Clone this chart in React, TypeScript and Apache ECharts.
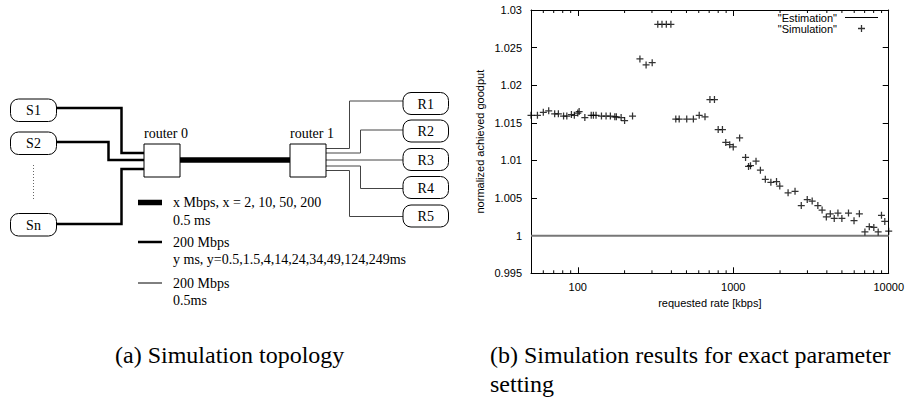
import React, { useEffect, useRef } from 'react';
import * as echarts from 'echarts';

// ---- chart data (b) ----
const rateKbps = [
  50, 55, 60, 65, 71, 75, 81, 85, 91, 95, 100, 102, 111, 122, 126, 131, 142, 152, 162, 173, 177, 190, 200, 225,
  251, 275, 301, 327, 348, 371, 397,
  427, 449, 502, 554, 604, 658, 708, 757, 800, 852, 895, 949, 1000, 1099,
  1200, 1254, 1291, 1401, 1495, 1608, 1746, 1898, 1992, 2253, 2497, 2739, 2992, 3219, 3501, 3728, 3970, 4210,
  4463, 4714, 4998, 5512, 5983, 6476, 7030, 7500, 8021, 8556, 8985, 9437, 10000,
];
const goodput = [
  1.016, 1.016, 1.0164, 1.0166, 1.0162, 1.0162, 1.0159, 1.0159, 1.0161, 1.016, 1.0163, 1.0165, 1.0157, 1.016,
  1.016, 1.016, 1.0159, 1.0159, 1.0159, 1.0158, 1.0158, 1.0157, 1.0153, 1.0159,
  1.0235, 1.0227, 1.023, 1.0281, 1.0281, 1.0281, 1.0281,
  1.0155, 1.0155, 1.0155, 1.0155, 1.016, 1.0158, 1.0181, 1.0181, 1.0141, 1.0141, 1.0124, 1.0121, 1.0118, 1.013,
  1.0104, 1.0092, 1.0093, 1.0099, 1.0087, 1.0075, 1.0071, 1.0072, 1.0066, 1.0057, 1.0059, 1.004, 1.0048, 1.0046,
  1.004, 1.0034, 1.0025, 1.0029, 1.0023, 1.003, 1.0023, 1.003, 1.002, 1.0029, 1.0005, 1.0012, 1.0011, 1.0005,
  1.0027, 1.0019, 1.0006,
];
const estimationX = [50, 10000];
const estimationY = [1, 1];
const xLabelTicks = [100, 1000, 10000];
const xMinorTicks = [60, 70, 80, 90, 200, 300, 400, 500, 600, 700, 800, 900, 2000, 3000, 4000, 5000, 6000, 7000, 8000, 9000];
const yMin = 0.995;
const yMax = 1.03;
const yStep = 0.005;

// ---- diagram texts (a) ----
const senders = ['S1', 'S2', 'Sn'];
const receivers = ['R1', 'R2', 'R3', 'R4', 'R5'];
const routers = ['router 0', 'router 1'];
const linkLegend = [
  ['x Mbps, x = 2, 10, 50, 200', '0.5 ms'],
  ['200 Mbps', 'y ms, y=0.5,1.5,4,14,24,34,49,124,249ms'],
  ['200 Mbps', '0.5ms'],
];
const captionA = '(a) Simulation topology';
const captionB = ['(b) Simulation results for exact parameter', 'setting'];
const seriesNames = ['"Estimation"', '"Simulation"'];

const SERIF = '"Liberation Serif", "Times New Roman", serif';
const SANS = '"Liberation Sans", Arial, Helvetica, sans-serif';
const PLUS = 'path://M4.1,0h1.8v4.1h4.1v1.8h-4.1v4.1h-1.8v-4.1h-4.1v-1.8h4.1z';
const LINE_ICON = 'path://M0,0h33v1h-33z';

function buildGraphic() {
  const g: any[] = [];
  const txt = (text: string, x: number, y: number, size: number, align = 'left') => ({
    type: 'text', x, y, silent: true,
    style: { text, fontSize: size, fontFamily: SERIF, fill: '#000', textAlign: align, textVerticalAlign: 'middle' },
  });
  const poly = (points: number[][], lw: number, color = '#000') => ({
    type: 'polyline', silent: true, shape: { points }, style: { stroke: color, lineWidth: lw, fill: null },
  });
  const box = (x: number, y: number, w: number, h: number, r: number) => ({
    type: 'rect', silent: true, shape: { x, y, width: w, height: h, r }, style: { fill: '#fff', stroke: '#000', lineWidth: 1 },
  });

  // sender links (medium)
  g.push(poly([[56.5, 108], [121.5, 108], [121.5, 153], [144, 153]], 2.5));
  g.push(poly([[56.5, 142], [108.5, 142], [108.5, 160], [144, 160]], 2.5));
  g.push(poly([[56.5, 224], [121.5, 224], [121.5, 169], [144, 169]], 2.5));
  // bottleneck (thick)
  g.push(poly([[180, 160], [290, 160]], 5.5));
  // receiver links (thin)
  g.push(poly([[326, 148.5], [349.5, 148.5], [349.5, 101], [403, 101]], 1, '#444'));
  g.push(poly([[326, 153], [360.5, 153], [360.5, 130], [403, 130]], 1, '#444'));
  g.push(poly([[326, 160], [403, 160]], 1, '#444'));
  g.push(poly([[326, 166], [360.5, 166], [360.5, 188.5], [403, 188.5]], 1, '#444'));
  g.push(poly([[326, 170.5], [349.5, 170.5], [349.5, 216.5], [403, 216.5]], 1, '#444'));

  // sender boxes
  const sTops = [99, 132, 213.5];
  senders.forEach((s, i) => {
    g.push(box(10.5, sTops[i], 46, 22.5, 8));
    g.push(txt(s, 33.5, sTops[i] + 11.5, 14, 'center'));
  });
  // dots between S2 and Sn
  g.push({ type: 'line', silent: true, shape: { x1: 33.5, y1: 165, x2: 33.5, y2: 200 }, style: { stroke: '#666', lineWidth: 1, lineDash: [1, 2] } });

  // routers
  const rX = [144, 290];
  routers.forEach((r, i) => {
    g.push(box(rX[i], 144, 36, 33, 0));
    g.push(txt(r, rX[i], 133, 14, 'left'));
  });

  // receiver boxes
  const rTops = [92.5, 120, 148.5, 176.5, 205];
  receivers.forEach((r, i) => {
    g.push(box(403, rTops[i], 45.5, 22, 8));
    g.push(txt(r, 425.75, rTops[i] + 11.5, 14, 'center'));
  });

  // link legend
  const legY = [202.5, 242, 283];
  const legW = [5.5, 2.5, 1];
  linkLegend.forEach((lines, i) => {
    g.push(poly([[138, legY[i]], [162, legY[i]]], legW[i]));
    g.push(txt(lines[0], 173, legY[i], 14));
    g.push(txt(lines[1], 173, legY[i] + 17.5, 14));
  });

  // captions
  g.push(txt(captionA, 115, 355, 24));
  g.push(txt(captionB[0], 490, 355, 24));
  g.push(txt(captionB[1], 490, 383.5, 24));
  return g;
}

export default function App() {
  const ref = useRef<HTMLDivElement>(null);
  useEffect(() => {
    if (!ref.current) return;
    const chart = echarts.init(ref.current, null, { renderer: 'svg' });
    const axisLine = { show: true, lineStyle: { color: '#000', width: 1 } };
    const yFmt = (v: number) => String(Number(v.toFixed(3)));
    const xFmt = (v: number) => {
      const r = Math.round(v);
      return xLabelTicks.includes(r) ? String(r) : '';
    };
    chart.setOption({
      animation: false,
      backgroundColor: '#fff',
      textStyle: { fontFamily: SANS },
      grid: { left: 531, top: 10, width: 361.3, height: 263.3, containLabel: false },
      legend: {
        orient: 'vertical', right: 29, top: 12, align: 'right', padding: 0,
        itemWidth: 33, itemHeight: 7, itemGap: 0,
        textStyle: { fontFamily: SANS, fontSize: 11, lineHeight: 11, color: '#000', padding: [0, 3, 0, 0] },
        data: [
          { name: seriesNames[0], icon: LINE_ICON, itemStyle: { color: '#000' } },
          { name: seriesNames[1] },
        ],
        selectedMode: false,
      },
      xAxis: [
        {
          type: 'log', logBase: 10, min: 50, max: 10000, position: 'bottom',
          name: 'requested rate [kbps]', nameLocation: 'middle', nameGap: 23,
          nameTextStyle: { fontFamily: SANS, fontSize: 11, color: '#000' },
          axisLine, axisTick: { show: true, inside: true, length: 6, lineStyle: { color: '#000' } },
          axisLabel: { show: true, formatter: xFmt, showMinLabel: false, margin: 8, fontFamily: SANS, fontSize: 11, color: '#000' },
          splitLine: { show: false },
        },
        {
          type: 'log', logBase: 10, min: 50, max: 10000, position: 'top',
          axisLine, axisTick: { show: true, inside: true, length: 6, lineStyle: { color: '#000' } },
          axisLabel: { show: false }, splitLine: { show: false },
        },
      ],
      yAxis: [
        {
          type: 'value', min: yMin, max: yMax, interval: yStep, position: 'left',
          name: 'normalized achieved goodput', nameLocation: 'middle', nameGap: 46,
          nameTextStyle: { fontFamily: SANS, fontSize: 11, color: '#000' },
          axisLine, axisTick: { show: true, inside: true, length: 6, lineStyle: { color: '#000' } },
          axisLabel: { formatter: yFmt, margin: 9, fontFamily: SANS, fontSize: 11, color: '#000' },
          splitLine: { show: false },
        },
        {
          type: 'value', min: yMin, max: yMax, interval: yStep, position: 'right',
          axisLine, axisTick: { show: true, inside: true, length: 6, lineStyle: { color: '#000' } },
          axisLabel: { show: false }, splitLine: { show: false },
        },
      ],
      series: [
        {
          name: seriesNames[0], type: 'line', xAxisIndex: 0, yAxisIndex: 0,
          data: estimationX.map((x, i) => [x, estimationY[i]]),
          symbol: 'none', showSymbol: false,
          lineStyle: { color: '#777', width: 2 }, itemStyle: { color: '#000' }, z: 2,
        },
        {
          name: seriesNames[1], type: 'scatter', xAxisIndex: 0, yAxisIndex: 0,
          data: rateKbps.map((x, i) => [x, goodput[i]]),
          symbol: PLUS, symbolSize: 7, clip: false,
          itemStyle: { color: '#000' }, z: 3,
        },
        {
          name: 'minorTicks', type: 'custom', xAxisIndex: 0, yAxisIndex: 0, silent: true, clip: false, z: 4,
          data: xMinorTicks.map((v) => [v, yMin]),
          renderItem: (_p: any, api: any) => {
            const x = api.value(0);
            const b = api.coord([x, yMin]);
            const t = api.coord([x, yMax]);
            return {
              type: 'group',
              children: [
                { type: 'line', shape: { x1: b[0], y1: b[1], x2: b[0], y2: b[1] - 3 }, style: { stroke: '#000', lineWidth: 1 } },
                { type: 'line', shape: { x1: t[0], y1: t[1], x2: t[0], y2: t[1] + 3 }, style: { stroke: '#000', lineWidth: 1 } },
              ],
            };
          },
        },
      ],
      graphic: buildGraphic(),
    });
    return () => chart.dispose();
  }, []);
  return (
    <div
      ref={ref}
      style={{ position: 'absolute', left: 0, top: 0, width: 907, height: 398, background: '#fff' }}
    />
  );
}
